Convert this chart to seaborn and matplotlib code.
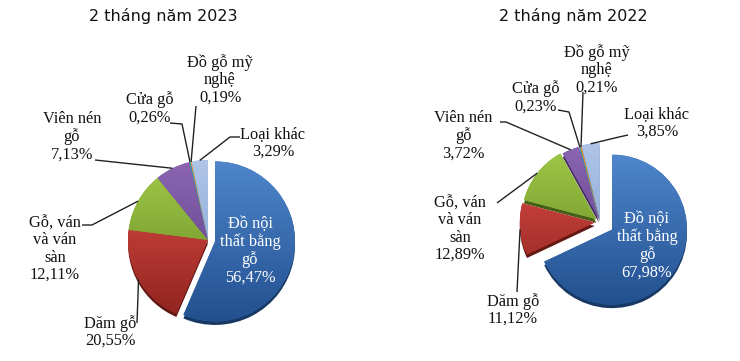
import numpy as np
import matplotlib
matplotlib.use("Agg")
import matplotlib.pyplot as plt
from matplotlib.colors import LinearSegmentedColormap, to_rgb
import seaborn as sns

# ---------------- data ----------------
categories = ["Đồ nội thất bằng gỗ", "Dăm gỗ", "Gỗ, ván và ván sàn", "Viên nén gỗ",
              "Cửa gỗ", "Đồ gỗ mỹ nghệ", "Loại khác"]
label_lines = ["Đồ nội\nthất bằng\ngỗ", "Dăm gỗ", "Gỗ, ván\nvà ván\nsàn", "Viên nén\ngỗ",
               "Cửa gỗ", "Đồ gỗ mỹ\nnghệ", "Loại khác"]
share_2023 = [56.47, 20.55, 12.11, 7.13, 0.26, 0.19, 3.29]
share_2022 = [67.98, 11.12, 12.89, 3.72, 0.23, 0.21, 3.85]
titles = ["2 tháng năm 2023", "2 tháng năm 2022"]

# ---------------- style ----------------
sns.set_theme(style="white")
plt.rcParams['font.family'] = ['DejaVu Sans']
SERIF = ['Liberation Serif', 'DejaVu Serif']

light = ["#4F86CC", "#E0504A", "#A2CA48", "#8C66B3", "#31A2B8", "#F0952F", "#AFC5E7"]
dark = ["#22508F", "#8F221D", "#628622", "#583980", "#1F6E80", "#B86418", "#7D9DD0"]
base = sns.color_palette(["#3168B0", "#C73A33", "#86AE35", "#734D9A", "#2A8FA8", "#E8892B", "#94B0DC"])

W, H = 740, 361
fig = plt.figure(figsize=(W / 100, H / 100), dpi=100)
ax = fig.add_axes([0, 0, 1, 1])


def Y(y):
    return H - y


# layout (pixel coordinates, y down); explode as a fraction of the radius
panels = [
    dict(values=share_2023, center=(208, 240), r=80,
         explode=[0.09, 0, 0, 0, 0, 0, 0],
         title_xy=(163, 16),
         inner=(250, 251),
         labels=[None, (110, 332), (55, 249), (72, 137), (150, 108.5), (220, 80), (273, 143)],
         paths=[None, [(137, 323)], [(82, 225), (92, 225)], [(95, 160)],
                [(170, 123), (182, 124)], [(196, 106)], [(240, 137), (230, 137)]]),
    dict(values=share_2022, center=(600, 222), r=75,
         explode=[0.19, 0.07, 0.06, 0.04, 0.03, 0.03, 0.05],
         title_xy=(573, 16),
         inner=(647, 246),
         labels=[None, (513, 310), (460, 229), (463, 136), (536, 97.5), (597, 70), (657, 123)],
         paths=[None, [(517, 292)], [(497, 203)], [(500, 122), (506, 122)],
                [(558, 110), (569, 112)], [(583, 92)], [(628, 135), (619, 137)]]),
]

FS = 11.8
for k, p in enumerate(panels):
    vals = p["values"]
    cx, cy = p["center"]
    r = p["r"]
    expl = [e * r for e in p["explode"]]
    # 3D thickness (shadow layer)
    shadow_cols = [tuple(np.array(to_rgb(c)) * 0.7) for c in dark]
    ax.pie(vals, colors=shadow_cols, startangle=90, counterclock=False,
           center=(cx, Y(cy + 3.5)), radius=r, explode=expl,
           wedgeprops=dict(linewidth=0), frame=True)
    wedges, _ = ax.pie(vals, colors=base, startangle=90, counterclock=False,
                       center=(cx, Y(cy)), radius=r, explode=expl,
                       wedgeprops=dict(linewidth=0), frame=True)
    grad = np.linspace(0, 1, 256).reshape(-1, 1)
    for i, w in enumerate(wedges):
        cmap = LinearSegmentedColormap.from_list("g", [light[i], dark[i]])
        wx, wy = w.center
        im = ax.imshow(grad, cmap=cmap, extent=[wx - r, wx + r, wy - r, wy + r],
                       origin="upper", aspect="auto", zorder=w.get_zorder() + 0.1,
                       interpolation="bilinear")
        im.set_clip_path(w)

    # labels
    for i, w in enumerate(wedges):
        pct = f"{vals[i]:.2f}".replace(".", ",") + "%"
        txt = label_lines[i] + "\n" + pct
        if i == 0:
            ix, iy = p["inner"]
            ax.text(ix, Y(iy), txt, ha="center", va="center", color="white",
                    fontsize=FS, family=SERIF, linespacing=1.1, zorder=10)
            continue
        lx, ly = p["labels"][i]
        ax.text(lx, Y(ly), txt, ha="center", va="center", color="#111111",
                fontsize=FS, family=SERIF, linespacing=1.1, zorder=10)
        # leader line to wedge edge at mid angle
        mid = np.deg2rad((w.theta1 + w.theta2) / 2)
        wx, wy = w.center
        ex, ey = wx + w.r * np.cos(mid), wy + w.r * np.sin(mid)
        pts = [(x, Y(y)) for x, y in p["paths"][i]] + [(ex, ey)]
        xs, ys = zip(*pts)
        ax.plot(xs, ys, color="#222222", lw=1.0, zorder=9, solid_capstyle="butt")

    tx, ty = p["title_xy"]
    ax.text(tx, Y(ty), titles[k], ha="center", va="center",
            fontsize=11.5, color="#111111", family=['DejaVu Sans'])

ax.set_xlim(0, W)
ax.set_ylim(0, H)
ax.set_aspect("auto")
ax.axis("off")
fig.savefig("out.png", dpi=100, facecolor="white")
